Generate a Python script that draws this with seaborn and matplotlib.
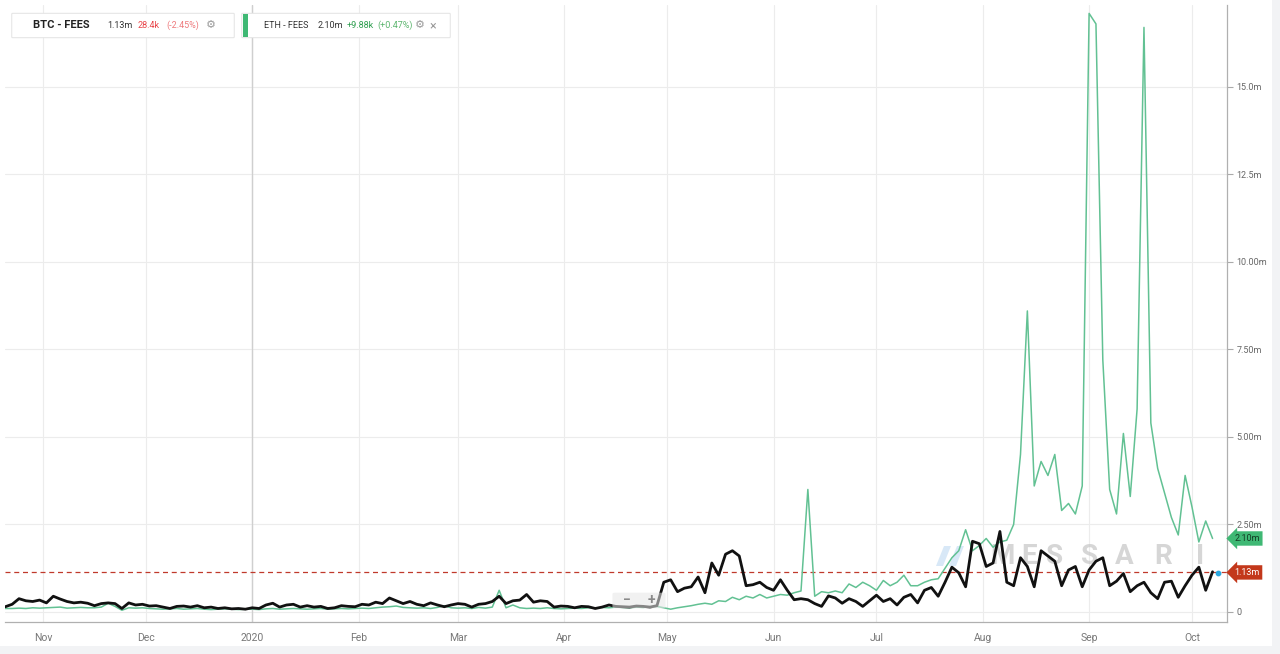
import pandas as pd
import numpy as np
import seaborn as sns
import matplotlib.pyplot as plt
from matplotlib.patches import Rectangle, FancyBboxPatch, Polygon
from matplotlib.transforms import blended_transform_factory

# daily fees in millions USD, sampled every 2 days from 2019-10-21
btc = [
    0.15, 0.22, 0.38, 0.32, 0.30, 0.34,
    0.26, 0.45, 0.37, 0.30, 0.26, 0.28, 0.25, 0.18, 0.24, 0.26, 0.24, 0.10, 0.26, 0.20, 0.22,
    0.17, 0.18, 0.14, 0.10, 0.16, 0.17, 0.14, 0.18, 0.12, 0.14, 0.10, 0.12, 0.09, 0.10, 0.08,
    0.12, 0.10, 0.20, 0.25, 0.14, 0.20, 0.22, 0.14, 0.18, 0.14, 0.16, 0.10, 0.12, 0.18, 0.16,
    0.15, 0.22, 0.20, 0.28, 0.24, 0.40, 0.32, 0.24, 0.30, 0.22, 0.18, 0.26, 0.20, 0.15, 0.20,
    0.24, 0.22, 0.14, 0.22, 0.24, 0.30, 0.45, 0.24, 0.32, 0.34, 0.50, 0.28, 0.32, 0.30, 0.14,
    0.17, 0.16, 0.12, 0.16, 0.15, 0.10, 0.14, 0.20, 0.16, 0.15, 0.14, 0.17, 0.16, 0.14, 0.18,
    0.85, 0.92, 0.58, 0.68, 0.72, 1.00, 0.55, 1.40, 1.05, 1.65, 1.75, 1.60, 0.75, 0.78, 0.85, 0.70,
    0.62, 0.92, 0.62, 0.35, 0.38, 0.35, 0.24, 0.16, 0.46, 0.40, 0.25, 0.38, 0.30, 0.16, 0.32,
    0.48, 0.30, 0.38, 0.20, 0.42, 0.50, 0.26, 0.62, 0.70, 0.45, 0.85, 1.28, 1.12, 0.72, 2.02, 1.95,
    1.30, 1.40, 2.30, 0.85, 0.75, 1.55, 1.30, 0.72, 1.75, 1.60, 1.45, 0.75, 1.20, 1.30, 0.72,
    1.20, 1.45, 1.55, 0.75, 0.88, 1.10, 0.58, 0.75, 0.85, 0.55, 0.38, 0.85, 0.88, 0.42, 0.75,
    1.05, 1.28, 0.62, 1.15,
]
eth = [
    0.10, 0.10, 0.11, 0.10, 0.12, 0.11,
    0.12, 0.13, 0.14, 0.11, 0.12, 0.13, 0.12, 0.12, 0.14, 0.25, 0.16, 0.05, 0.12, 0.11, 0.12,
    0.10, 0.09, 0.08, 0.09, 0.10, 0.08, 0.09, 0.10, 0.08, 0.07, 0.08, 0.09, 0.08, 0.07, 0.08,
    0.08, 0.07, 0.09, 0.10, 0.08, 0.09, 0.10, 0.09, 0.08, 0.09, 0.10, 0.08, 0.09, 0.10, 0.09,
    0.10, 0.11, 0.10, 0.12, 0.14, 0.15, 0.17, 0.13, 0.12, 0.11, 0.12, 0.10, 0.13, 0.18, 0.12,
    0.11, 0.12, 0.10, 0.13, 0.11, 0.14, 0.62, 0.12, 0.20, 0.12, 0.10, 0.11, 0.10, 0.12, 0.10,
    0.09, 0.10, 0.11, 0.10, 0.12, 0.11, 0.13, 0.12, 0.14, 0.13, 0.12, 0.14, 0.13, 0.15, 0.16,
    0.12, 0.08, 0.12, 0.15, 0.18, 0.22, 0.25, 0.22, 0.32, 0.30, 0.42, 0.35, 0.45, 0.40, 0.50, 0.40,
    0.45, 0.50, 0.48, 0.55, 0.60, 3.50, 0.45, 0.58, 0.55, 0.60, 0.55, 0.80, 0.70, 0.85, 0.75,
    0.62, 0.90, 0.75, 0.85, 1.05, 0.75, 0.75, 0.85, 0.92, 0.95, 1.25, 1.55, 1.75, 2.35, 1.75, 1.90,
    2.10, 1.85, 2.00, 2.05, 2.50, 4.50, 8.60, 3.60, 4.30, 3.90, 4.50, 2.90, 3.10, 2.80, 3.60,
    17.10, 16.80, 7.20, 3.50, 2.80, 5.10, 3.30, 5.80, 16.70, 5.40, 4.10, 3.40, 2.70, 2.20, 3.90,
    3.00, 2.00, 2.60, 2.10,
]
dates = pd.date_range('2019-10-21', periods=len(btc), freq='2D')

month_ticks = pd.date_range('2019-11-01', '2020-10-01', freq='MS')
month_labels = ['Nov', 'Dec', '2020', 'Feb', 'Mar', 'Apr', 'May', 'Jun', 'Jul', 'Aug', 'Sep', 'Oct']
y_ticks = [0, 2.5, 5, 7.5, 10, 12.5, 15]
y_labels = ['0', '2.50m', '5.00m', '7.50m', '10.00m', '12.5m', '15.0m']

df = pd.DataFrame({'date': dates, 'BTC': btc, 'ETH': eth})

sns.set_style('white')
plt.rcParams['font.family'] = ['Roboto', 'DejaVu Sans']

W, H = 1280, 654
def fx(x):
    return x / W
def fy(y):
    return 1 - y / H

fig = plt.figure(figsize=(12.8, 6.54), dpi=100)
fig.patch.set_facecolor('#f2f3f5')
fig.add_artist(Rectangle((0, fy(646)), fx(1272), 646 / H, transform=fig.transFigure,
                         fc='white', ec='none', zorder=0))

ax = fig.add_axes([fx(5), fy(622), (1227 - 5) / W, (622 - 5) / H])
ax.set_facecolor('white')

# watermark (behind the lines)
for lx, ch in zip([1002, 1029, 1055, 1090, 1124, 1163, 1200], 'MESSARI'):
    ax.text(fx(lx), fy(557), ch, transform=fig.transFigure, fontsize=20, fontweight='bold',
            color='#c9c9c9', alpha=0.75, ha='center', va='center', zorder=1)
for off in [0, 13]:
    ax.add_patch(Polygon([[fx(936 + off), fy(566)], [fx(944 + off), fy(546)], [fx(951 + off), fy(546)],
                          [fx(943 + off), fy(566)]], closed=True, transform=fig.transFigure,
                         fc='#cfe3f5', ec='none', alpha=0.8, zorder=1))

green = '#62c193'
sns.lineplot(data=df, x='date', y='ETH', color=green, lw=1.1, ax=ax, zorder=3)
sns.lineplot(data=df, x='date', y='BTC', color='#111111', lw=2.0, ax=ax, zorder=4)
ax.scatter([dates[-1] + pd.Timedelta(days=1.5)], [btc[-1] - 0.03], s=10, color='#2aa7df', zorder=5)

ax.axhline(1.13, color='#c0392b', ls=(0, (4, 3)), lw=0.9, zorder=2)
ax.axvline(pd.Timestamp('2020-01-01'), color='#cfcfcf', lw=1.0, zorder=1)

ax.set_xlim(pd.Timestamp('2019-10-20 22:00'), pd.Timestamp('2020-10-11 05:00'))
ax.set_ylim(-0.286, 17.34)

ax.set_xticks(month_ticks)
ax.set_xticklabels(month_labels)
ax.yaxis.tick_right()
ax.set_yticks(y_ticks)
ax.set_yticklabels(y_labels)
ax.grid(True, color='#ececec', lw=0.8, zorder=0)
ax.tick_params(axis='x', length=4, color='#aaaaaa', labelcolor='#777777', labelsize=7.5, pad=4)
ax.tick_params(axis='y', length=4, color='#aaaaaa', labelcolor='#666666', labelsize=6.5, pad=3)
ax.set_xlabel('')
ax.set_ylabel('')
for s in ['top', 'left']:
    ax.spines[s].set_visible(False)
for s in ['bottom', 'right']:
    ax.spines[s].set_color('#b0b0b0')
    ax.spines[s].set_linewidth(0.9)

# last-value tags on the right axis
tr = blended_transform_factory(ax.transAxes, ax.transData)
ax.text(1.006, eth[-1], '2.10m', transform=tr, fontsize=6.5, color='#123d24', va='center', ha='left',
        bbox=dict(boxstyle='larrow,pad=0.3', fc='#3fb874', ec='none'), clip_on=False, zorder=6)
ax.text(1.006, 1.13, '1.13m', transform=tr, fontsize=6.5, color='white', va='center', ha='left',
        bbox=dict(boxstyle='larrow,pad=0.3', fc='#c3381b', ec='none'), clip_on=False, zorder=6)

# zoom control
fig.add_artist(FancyBboxPatch((fx(615), fy(607)), fx(48), 13 / H, boxstyle='round,pad=0.002',
                              transform=fig.transFigure, fc='#e6e6e6', ec='none', alpha=0.55, zorder=5))
fig.text(fx(627), fy(600), '−', fontsize=10, color='#8a8a8a', fontweight='bold', ha='center', va='center', zorder=6)
fig.text(fx(651), fy(600), '+', fontsize=10, color='#8a8a8a', fontweight='bold', ha='center', va='center', zorder=6)

# legend chips
for x0, x1 in [(13, 233), (243, 449)]:
    fig.add_artist(FancyBboxPatch((fx(x0), fy(37)), fx(x1 - x0), 23 / H, boxstyle='round,pad=0.001',
                                  transform=fig.transFigure, fc='white', ec='#e6e6e6', lw=0.8, zorder=5))
fig.add_artist(Rectangle((fx(243), fy(37)), fx(5), 23 / H, transform=fig.transFigure,
                         fc='#3fb874', ec='none', zorder=6))
cy = fy(25.5)
fig.text(fx(33), cy, 'BTC - FEES', fontsize=8, fontweight='bold', color='#222222', va='center', zorder=7)
fig.text(fx(107), cy, '1.13m', fontsize=6.5, color='#333333', va='center', zorder=7)
fig.text(fx(138), cy, '28.4k', fontsize=6.5, color='#e8474b', va='center', zorder=7)
fig.text(fx(166), cy, '(-2.45%)', fontsize=6.5, color='#ee7a7d', va='center', zorder=7)
fig.text(fx(206), cy, '⚙', fontsize=8, color='#999999', va='center', zorder=7)
fig.text(fx(264), cy, 'ETH - FEES', fontsize=6.5, color='#333333', va='center', zorder=7)
fig.text(fx(318), cy, '2.10m', fontsize=6.5, color='#333333', va='center', zorder=7)
fig.text(fx(347), cy, '+9.88k', fontsize=6.5, color='#2e9e4f', va='center', zorder=7)
fig.text(fx(377), cy, '(+0.47%)', fontsize=6.5, color='#5cb56e', va='center', zorder=7)
fig.text(fx(415), cy, '⚙', fontsize=8, color='#999999', va='center', zorder=7)
fig.text(fx(429), cy, '×', fontsize=9, color='#999999', va='center', zorder=7)

fig.savefig('out.png', dpi=100, facecolor=fig.get_facecolor())
